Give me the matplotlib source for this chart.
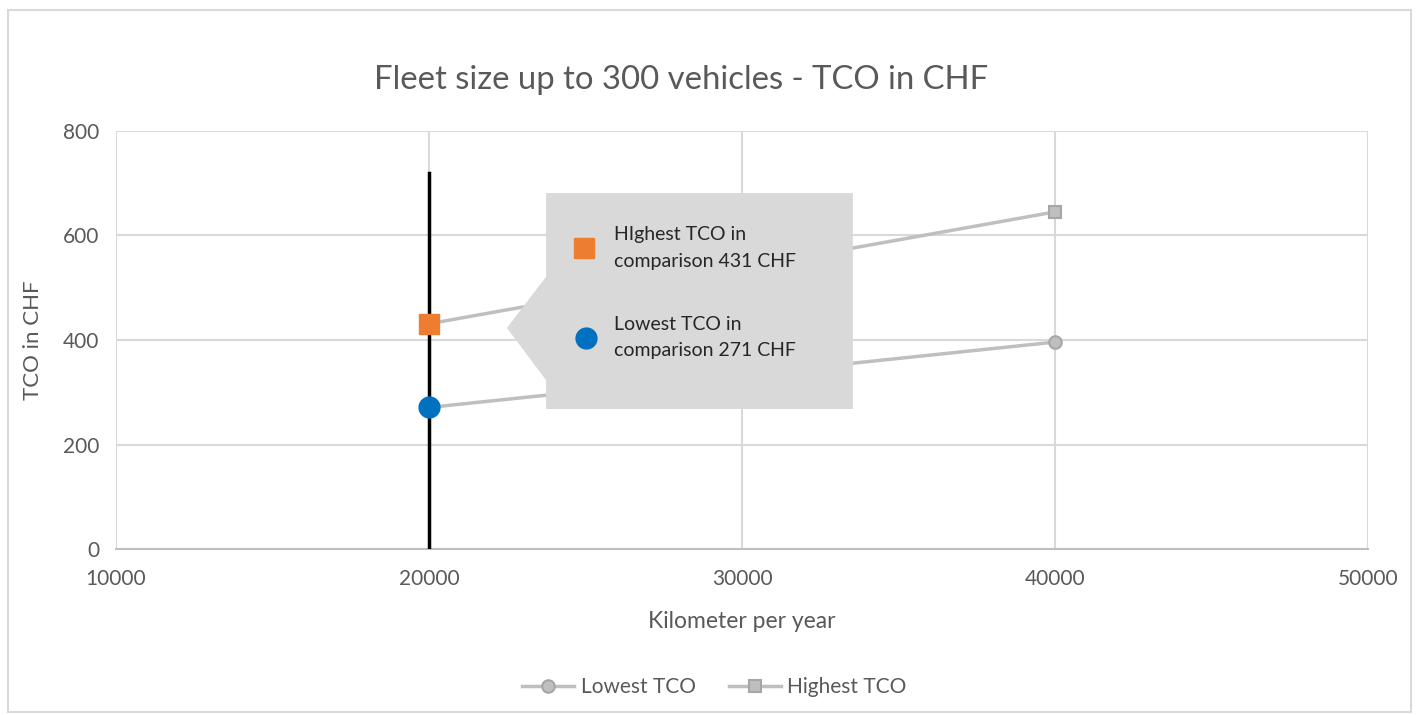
import numpy as np
import matplotlib.pyplot as plt
from matplotlib.patches import Polygon, Rectangle

plt.rcParams['font.family'] = ['Lato', 'DejaVu Sans']

km = [20000, 40000]
lowest = [271, 396]
highest = [431, 645]
marker_x = 20000
marker_top = 720

text_col = '#595959'
grid_col = '#D9D9D9'
line_col = '#BFBFBF'

fig = plt.figure(figsize=(14.19, 7.15), dpi=100)
ax = fig.add_axes([0.0817, 0.232, 0.8825, 0.585])

# outer chart border
fig.patches.append(Rectangle((8 / 1419, 3 / 715), 1403 / 1419, 702 / 715,
                             transform=fig.transFigure, fill=False,
                             edgecolor='#D9D9D9', linewidth=1.5))

ax.plot(km, lowest, color=line_col, lw=2.5, marker='o', ms=9,
        mfc='#BFBFBF', mec='#A6A6A6', mew=1.5, label='Lowest TCO', zorder=3)
ax.plot(km, highest, color=line_col, lw=2.5, marker='s', ms=9,
        mfc='#BFBFBF', mec='#A6A6A6', mew=1.5, label='Highest TCO', zorder=3)

ax.plot([marker_x, marker_x], [0, marker_top], color='black', lw=2.5, zorder=4)
ax.plot(km[0], highest[0], marker='s', ms=15, color='#ED7D31', zorder=5)
ax.plot(km[0], lowest[0], marker='o', ms=15, color='#0070C0', zorder=5)

# callout box
box = Polygon([(23740, 681), (33540, 681), (33540, 268), (23740, 268),
               (23740, 323), (22490, 423), (23740, 521)],
              closed=True, facecolor='#D9D9D9', edgecolor='none', zorder=6)
ax.add_patch(box)
ax.plot(24960, 576, marker='s', ms=15, color='#ED7D31', zorder=7)
ax.plot(25020, 404, marker='o', ms=15, color='#0070C0', zorder=7)
ax.text(25900, 576, 'HIghest TCO in\ncomparison 431 CHF', fontsize=14,
        color='#262626', va='center', ha='left', linespacing=1.65, zorder=7)
ax.text(25900, 404, 'Lowest TCO in\ncomparison 271 CHF', fontsize=14,
        color='#262626', va='center', ha='left', linespacing=1.65, zorder=7)

ax.set_xlim(10000, 50000)
ax.set_ylim(0, 800)
ax.set_xticks(np.arange(10000, 50001, 10000))
ax.set_yticks(np.arange(0, 801, 200))
ax.grid(True, color=grid_col, lw=1.5)
ax.set_axisbelow(True)
for s in ['top', 'right', 'left']:
    ax.spines[s].set_visible(False)
ax.spines['bottom'].set_color(line_col)
ax.spines['bottom'].set_linewidth(1.5)
ax.tick_params(length=0, labelsize=15, colors=text_col)
ax.tick_params(axis='x', pad=14)
ax.tick_params(axis='y', pad=12)

ax.set_xlabel('Kilometer per year', fontsize=16.5, color=text_col, labelpad=16)
ax.set_ylabel('TCO in CHF', fontsize=16, color=text_col, labelpad=14)
fig.text(681 / 1419, 1 - 80 / 715, 'Fleet size up to 300 vehicles - TCO in CHF',
         fontsize=23.7, color=text_col, ha='center', va='center')

ax.legend(loc='center', bbox_to_anchor=(0.478, -0.33), ncol=2, frameon=False,
          fontsize=15, labelcolor=text_col, handlelength=2.5,
          columnspacing=1.6, handletextpad=0.3)

fig.savefig('out.png', dpi=100)
